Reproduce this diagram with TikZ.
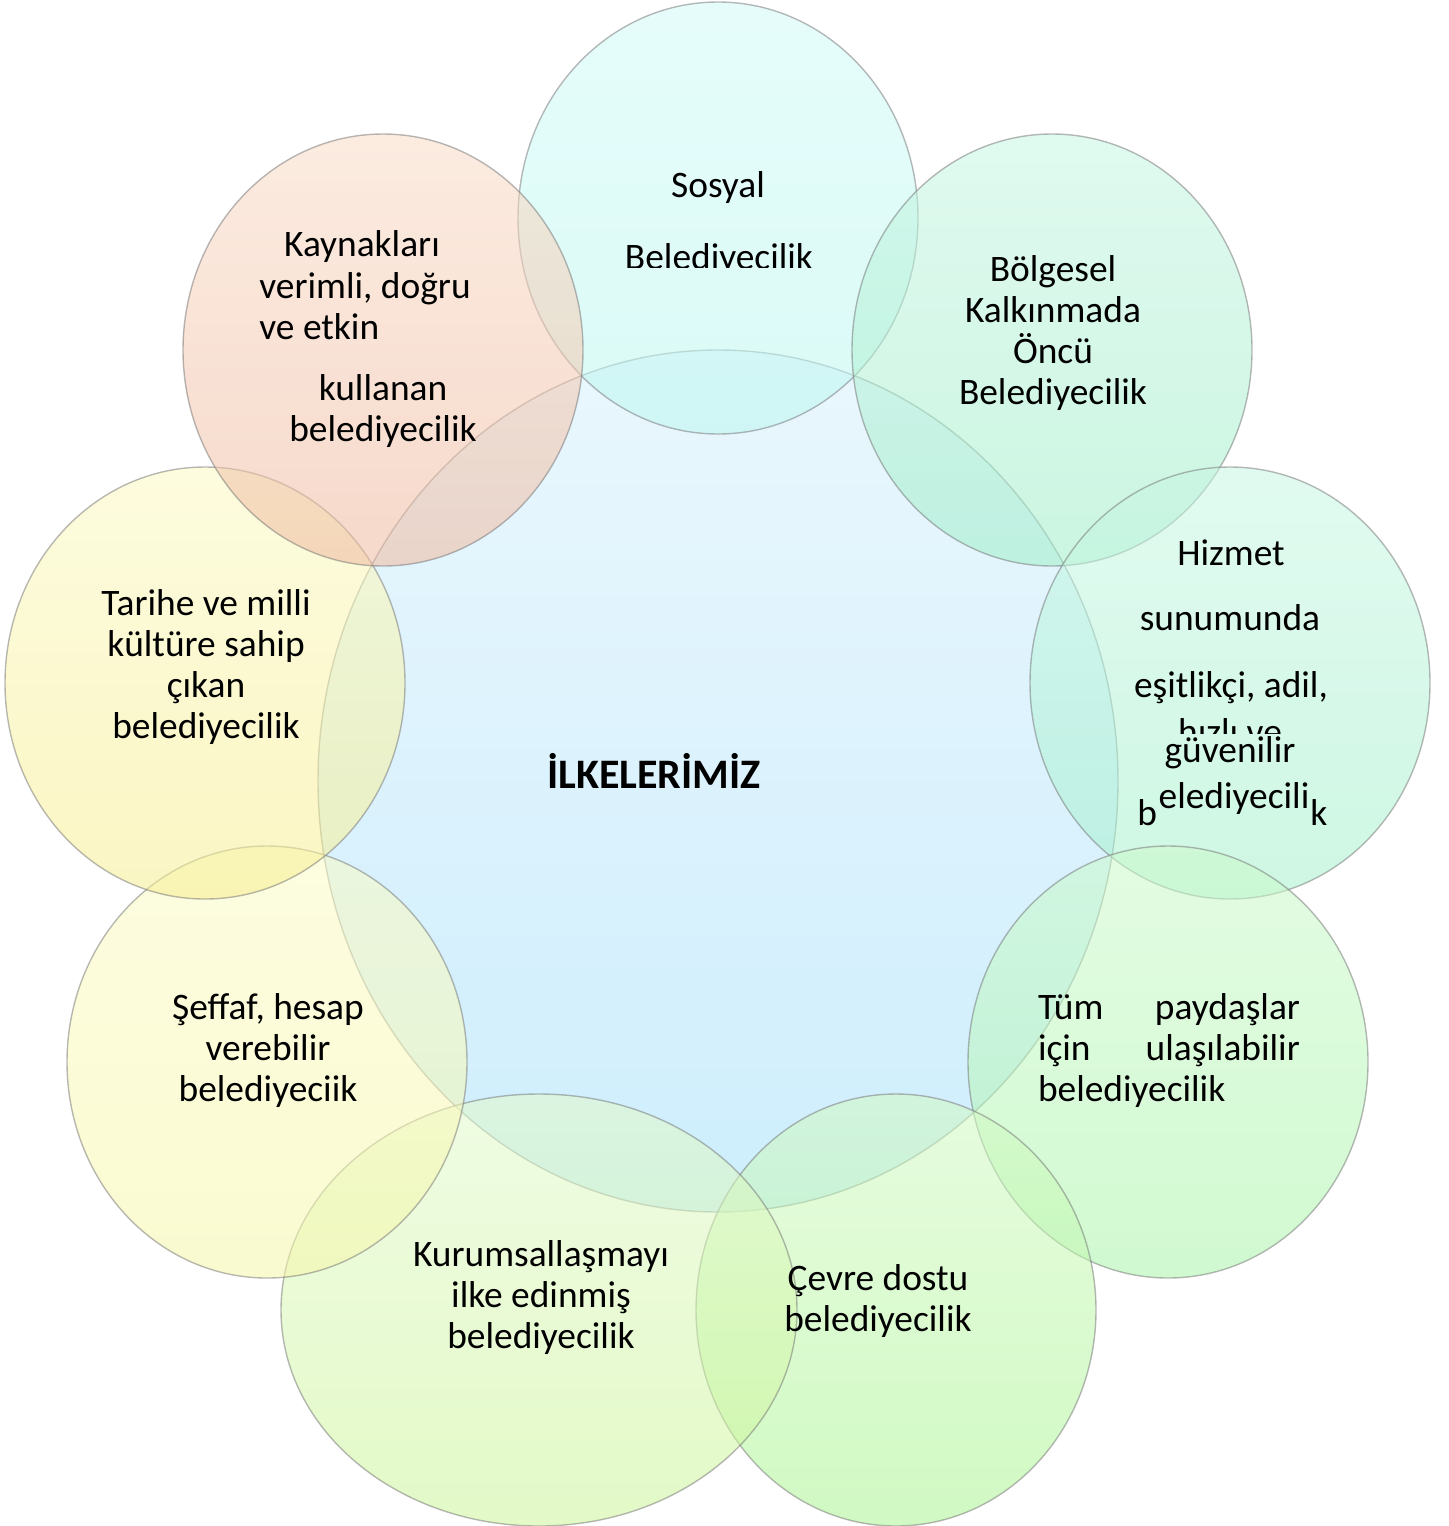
\documentclass[tikz,border=0pt]{standalone}
\usepackage{fontspec}
\setmainfont{Carlito}
\usepackage{tikz}
\usetikzlibrary{shapes.geometric,positioning}

\definecolor{cenTop}{RGB}{216,240,252}
\definecolor{cenBot}{RGB}{165,224,250}
\definecolor{sosTop}{RGB}{208,250,247}
\definecolor{sosBot}{RGB}{188,247,240}
\definecolor{bolTop}{RGB}{198,245,226}
\definecolor{bolBot}{RGB}{160,238,200}
\definecolor{hizTop}{RGB}{200,246,228}
\definecolor{hizBot}{RGB}{165,241,204}
\definecolor{tumTop}{RGB}{204,249,204}
\definecolor{tumBot}{RGB}{170,244,170}
\definecolor{cevTop}{RGB}{210,249,196}
\definecolor{cevBot}{RGB}{170,244,145}
\definecolor{kurTop}{RGB}{226,249,204}
\definecolor{kurBot}{RGB}{204,244,152}
\definecolor{sefTop}{RGB}{251,251,198}
\definecolor{sefBot}{RGB}{246,246,170}
\definecolor{tarTop}{RGB}{251,249,195}
\definecolor{tarBot}{RGB}{246,238,145}
\definecolor{kayTop}{RGB}{249,219,198}
\definecolor{kayBot}{RGB}{238,186,160}

\begin{document}
\begin{tikzpicture}
        [
            x=0.5pt, y=-0.5pt,
            ring/.style={ellipse, draw=black!55, draw opacity=0.5, line width=0.7pt, fill opacity=0.55, inner sep=0pt, minimum width=200pt, minimum height=216pt},
            txt/.style={font=\fontsize{18.7}{20.5}\selectfont, align=center, inner sep=0pt},
        ]
            \useasboundingbox (0,0) rectangle (1449,1526);

            % circles
            \node[ring, minimum width=400pt, minimum height=431pt, top color=cenTop, bottom color=cenBot] (C) at (718,781) {};
            \node[ring, top color=sosTop, bottom color=sosBot] (S1) at (718,218) {};
            \node[ring, top color=bolTop, bottom color=bolBot] (S2) at (1052,350) {};
            \node[ring, top color=hizTop, bottom color=hizBot] (S3) at (1230,683) {};
            \node[ring, top color=tumTop, bottom color=tumBot] (S4) at (1168,1062) {};
            \node[ring, top color=cevTop, bottom color=cevBot] (S5) at (896,1310) {};
            \node[ring, minimum width=258pt, top color=kurTop, bottom color=kurBot] (S6) at (539,1310) {};
            \node[ring, top color=sefTop, bottom color=sefBot] (S7) at (267,1062) {};
            \node[ring, top color=tarTop, bottom color=tarBot] (S8) at (205,683) {};
            \node[ring, top color=kayTop, bottom color=kayBot] (S9) at (383,350) {};

            % texts
            \node[txt, font=\fontsize{21}{23}\selectfont\bfseries] (t0) at (654,771) {İLKELERİMİZ};

            \node[txt, anchor=base] (t1a) at (718,197) {Sosyal};
            \begin{scope}
                \clip (550,200) rectangle (900,267);
                \node[txt, anchor=base] (t1b) at (719,269) {Belediyecilik};
            \end{scope}

            \node[txt] (t2) at (1053,333) {Bölgesel\\Kalkınmada\\Öncü\\Belediyecilik};

            \node[txt, anchor=base] (t3a) at (1231,565) {Hizmet};
            \node[txt, anchor=base] (t3b) at (1230,630) {sunumunda};
            \node[txt, anchor=base] (t3c) at (1231,697) {eşitlikçi, adil,};
            \begin{scope}
                \clip (1100,700) rectangle (1350,733);
                \node[txt, anchor=base] (t3d) at (1230,744) {hızlı ve};
            \end{scope}
            \node[txt, anchor=base] (t3e) at (1230,762) {güvenilir};
            \node[txt, anchor=base west] (t3f) at (1137,825) {b};
            \node[txt, anchor=base] (t3g) at (1234,808) {elediyecili};
            \node[txt, anchor=base west] (t3h) at (1310,825) {k};

            \node[txt, align=left, text width=131pt] (t4) at (1169,1051) {Tüm\hfill paydaşlar\\için\hfill ulaşılabilir\\belediyecilik};

            \node[txt] (t5) at (878,1301) {Çevre dostu\\belediyecilik};
            \node[txt] (t6) at (541,1298) {Kurumsallaşmayı\\ilke edinmiş\\belediyecilik};
            \node[txt] (t7) at (268,1051) {Şeffaf, hesap\\verebilir\\belediyeciik};
            \node[txt] (t8) at (206,667) {Tarihe ve milli\\kültüre sahip\\çıkan\\belediyecilik};

            \node[txt] (t9a) at (362,247) {Kaynakları};
            \node[txt, align=left, anchor=west] (t9b) at (259,306) {verimli, doğru\\ve etkin};
            \node[txt] (t9c) at (383,411) {kullanan\\belediyecilik};
        \end{tikzpicture}
\end{document}
